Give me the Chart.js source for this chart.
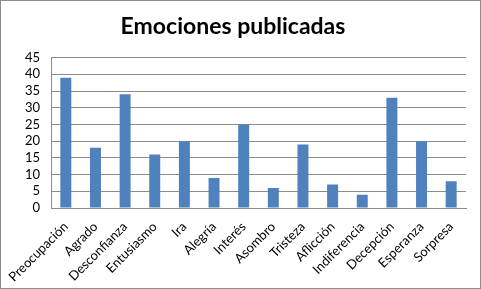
<!DOCTYPE html>
<html>
<head>
<meta charset="utf-8">
<script src="https://cdn.jsdelivr.net/npm/chart.js@4/dist/chart.umd.min.js"></script>
<style>
  html, body { margin: 0; padding: 0; background: #fff; }
  #wrap { width: 481px; height: 289px; }
</style>
</head>
<body>
<div id="wrap"><canvas id="chart" width="481" height="289"></canvas></div>
<script>
const categories = ['Preocupación', 'Agrado', 'Desconfianza', 'Entusiasmo', 'Ira', 'Alegría', 'Interés',
  'Asombro', 'Tristeza', 'Aflicción', 'Indiferencia', 'Decepción', 'Esperanza', 'Sorpresa'];
const counts = [39, 18, 34, 16, 20, 9, 25, 6, 19, 7, 4, 33, 20, 8];
const yMax = 45;
const yStep = 5;

const frame = {
  id: 'frame',
  beforeDraw(chart) {
    const c = chart.ctx;
    c.save();
    c.fillStyle = '#fff';
    c.fillRect(0, 0, chart.width, chart.height);
    c.strokeStyle = '#8c8c8c';
    c.lineWidth = 1;
    c.strokeRect(0.5, 0.5, chart.width - 1, chart.height - 1);
    c.restore();
  }
};

new Chart(document.getElementById('chart'), {
  type: 'bar',
  data: {
    labels: categories,
    datasets: [{
      data: counts,
      backgroundColor: '#4f81bd',
      borderWidth: 0,
      categoryPercentage: 1,
      barPercentage: 0.37
    }]
  },
  options: {
    responsive: false,
    animation: false,
    layout: { padding: { left: 0, right: 15, top: 0, bottom: 1 } },
    plugins: {
      legend: { display: false },
      tooltip: { enabled: false },
      title: {
        display: true,
        text: 'Emociones publicadas',
        color: '#000',
        font: { family: 'Lato', size: 23, weight: 'bold' },
        padding: { top: 13, bottom: 17 }
      }
    },
    scales: {
      y: {
        min: 0,
        max: yMax,
        afterFit: s => { s.width = 51; },
        grid: { color: '#8c8c8c', drawTicks: false },
        border: { color: '#8c8c8c' },
        ticks: {
          stepSize: yStep, autoSkip: false,
          color: '#000', padding: 11, font: { family: 'Lato', size: 13 }
        }
      },
      x: {
        afterFit: s => { s.height = 80; },
        grid: { display: false },
        border: { color: '#8c8c8c' },
        ticks: {
          color: '#000', minRotation: 45, maxRotation: 45, padding: 3, autoSkip: false,
          font: { family: 'Lato', size: 13 }
        }
      }
    }
  },
  plugins: [frame]
});
</script>
</body>
</html>
